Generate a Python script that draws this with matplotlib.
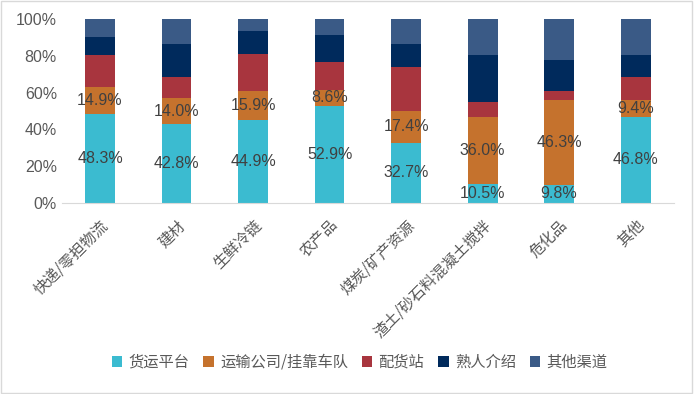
import numpy as np
import matplotlib.pyplot as plt
from matplotlib.patches import Rectangle

plt.rcParams['font.family'] = ['Noto Sans CJK SC', 'DejaVu Sans']

categories = ["快递/零担物流", "建材", "生鲜冷链", "农产品", "煤炭/矿产资源",
              "渣土/砂石料混凝土搅拌", "危化品", "其他"]
series_names = ["货运平台", "运输公司/挂靠车队", "配货站", "熟人介绍", "其他渠道"]

platform = [48.3, 42.8, 44.9, 52.9, 32.7, 10.5, 9.8, 46.8]
company = [14.9, 14.0, 15.9, 8.6, 17.4, 36.0, 46.3, 9.4]
station = [17.2, 11.7, 20.4, 15.1, 23.8, 8.4, 4.8, 12.3]
friends = [9.8, 17.9, 12.3, 14.9, 12.5, 25.5, 16.8, 11.9]
others = [9.8, 13.6, 6.5, 8.5, 13.6, 19.6, 22.3, 19.6]

colors = ["#3BBBD0", "#C5722D", "#A8353E", "#002A5C", "#3A5A86"]

fig = plt.figure(figsize=(6.94, 3.94), dpi=100)
ax = fig.add_axes([0.089, 0.485, 0.882, 0.467])

x = np.arange(len(categories))
bottom = np.zeros(len(categories))
all_series = [platform, company, station, friends, others]
for i, vals in enumerate(all_series):
    vals = np.array(vals)
    bars = ax.bar(x, vals, 0.39, bottom=bottom, color=colors[i], label=series_names[i])
    if i < 2:
        ax.bar_label(bars, labels=[f"{v:.1f}%" for v in vals], label_type='center',
                     color="#404040", fontsize=11.5, family=['Liberation Sans'])
    bottom += vals

ax.set_xlim(-0.5, len(categories) - 0.5)
ax.set_ylim(0, 100)
ax.set_yticks(np.arange(0, 101, 20))
ax.set_yticklabels([f"{v}%" for v in range(0, 101, 20)], fontsize=11.5, color="#595959",
                   family=['Liberation Sans'])
ax.set_xticks(x)
ax.set_xticklabels(categories, rotation=45, ha='right', rotation_mode='anchor',
                   fontsize=11, color="#595959")
ax.tick_params(axis='both', length=0)
ax.tick_params(axis='x', pad=10)
for s in ['top', 'right', 'left']:
    ax.spines[s].set_visible(False)
ax.spines['bottom'].set_color("#D9D9D9")

ax.legend(loc='center', bbox_to_anchor=(0.518, 0.08), bbox_transform=fig.transFigure,
          ncol=5, frameon=False, fontsize=11, handlelength=0.7, handleheight=0.7,
          handletextpad=0.4, columnspacing=0.9, labelcolor="#595959")

fig.patches.append(Rectangle((0.002, 0.003), 0.995, 0.994, transform=fig.transFigure,
                             fill=False, edgecolor="#D9D9D9", linewidth=1))

fig.savefig("out.png", dpi=100)
